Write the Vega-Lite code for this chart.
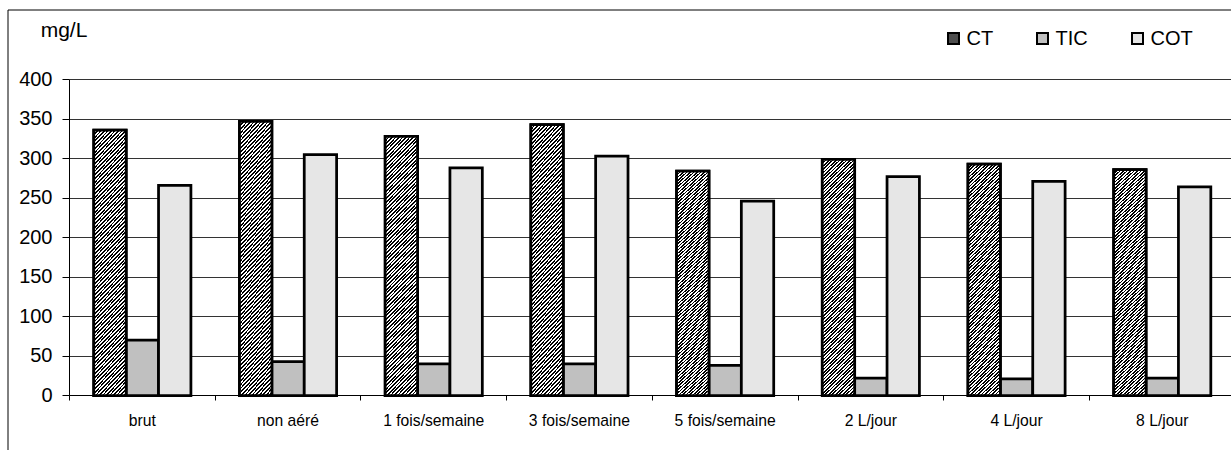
{
  "$schema": "https://vega.github.io/schema/vega-lite/v6.json",
  "width": 1240,
  "height": 450,
  "autosize": {"type": "none"},
  "padding": {"left": 7.5, "top": 9.5, "right": 0, "bottom": 0},
  "background": "white",
  "config": {
    "font": "Liberation Sans",
    "view": {"stroke": "black", "strokeWidth": 1},
    "axis": {"translate": 0, "domainColor": "black", "tickColor": "black", "labelColor": "black", "titleColor": "black"}
  },
  "data": {
    "values": [
      {"traitement": "brut", "serie": "CT", "mgL": 336},
      {"traitement": "brut", "serie": "TIC", "mgL": 70},
      {"traitement": "brut", "serie": "COT", "mgL": 266},
      {"traitement": "non aéré", "serie": "CT", "mgL": 347},
      {"traitement": "non aéré", "serie": "TIC", "mgL": 43},
      {"traitement": "non aéré", "serie": "COT", "mgL": 305},
      {"traitement": "1 fois/semaine", "serie": "CT", "mgL": 328},
      {"traitement": "1 fois/semaine", "serie": "TIC", "mgL": 40},
      {"traitement": "1 fois/semaine", "serie": "COT", "mgL": 288},
      {"traitement": "3 fois/semaine", "serie": "CT", "mgL": 343},
      {"traitement": "3 fois/semaine", "serie": "TIC", "mgL": 40},
      {"traitement": "3 fois/semaine", "serie": "COT", "mgL": 303},
      {"traitement": "5 fois/semaine", "serie": "CT", "mgL": 284},
      {"traitement": "5 fois/semaine", "serie": "TIC", "mgL": 38},
      {"traitement": "5 fois/semaine", "serie": "COT", "mgL": 246},
      {"traitement": "2 L/jour", "serie": "CT", "mgL": 299},
      {"traitement": "2 L/jour", "serie": "TIC", "mgL": 22},
      {"traitement": "2 L/jour", "serie": "COT", "mgL": 277},
      {"traitement": "4 L/jour", "serie": "CT", "mgL": 293},
      {"traitement": "4 L/jour", "serie": "TIC", "mgL": 21},
      {"traitement": "4 L/jour", "serie": "COT", "mgL": 271},
      {"traitement": "8 L/jour", "serie": "CT", "mgL": 286},
      {"traitement": "8 L/jour", "serie": "TIC", "mgL": 22},
      {"traitement": "8 L/jour", "serie": "COT", "mgL": 264}
    ]
  },
  "encoding": {
    "x": {
      "field": "traitement",
      "type": "nominal",
      "sort": null,
      "scale": {
        "domain": ["brut", "non aéré", "1 fois/semaine", "3 fois/semaine", "5 fois/semaine", "2 L/jour", "4 L/jour", "8 L/jour"],
        "range": [62, 1227.6],
        "paddingInner": 0,
        "paddingOuter": 0
      },
      "axis": {
        "title": null,
        "orient": "bottom",
        "offset": -64,
        "tickBand": "extent",
        "tickSize": 5,
        "labelFontSize": 15.7,
        "labelPadding": 25,
        "labelBaseline": "alphabetic",
        "labelAngle": 0,
        "labelOverlap": false,
        "grid": false
      }
    },
    "xOffset": {
      "field": "serie",
      "type": "nominal",
      "scale": {"domain": ["CT", "TIC", "COT"], "paddingInner": 0, "paddingOuter": 0.75}
    },
    "y": {
      "field": "mgL",
      "type": "quantitative",
      "scale": {"domain": [0, 400], "range": [386, 70], "nice": false},
      "axis": {
        "title": "mg/L",
        "titleAngle": 0,
        "titleAlign": "left",
        "titleBaseline": "alphabetic",
        "titleX": -28.8,
        "titleY": 27,
        "titleFontSize": 21,
        "titleFontWeight": "normal",
        "orient": "left",
        "offset": -62,
        "values": [0, 50, 100, 150, 200, 250, 300, 350, 400],
        "tickSize": 7,
        "labelFontSize": 20,
        "labelPadding": 10,
        "grid": true,
        "gridColor": "#333",
        "gridWidth": 1
      }
    }
  },
  "layer": [
    {
      "mark": {"type": "bar", "stroke": "black", "strokeWidth": 2.75},
      "encoding": {
        "fill": {
          "field": "serie",
          "type": "nominal",
          "scale": {"domain": ["CT", "TIC", "COT"], "range": ["#4d4d4d", "#c0c0c0", "#e6e6e6"]},
          "legend": {
            "title": null,
            "orient": "none",
            "direction": "horizontal",
            "legendX": 936,
            "legendY": 19,
            "padding": 0,
            "symbolType": "square",
            "symbolSize": 121,
            "symbolStrokeColor": "black",
            "symbolStrokeWidth": 2,
            "symbolOpacity": 1,
            "labelFontSize": 20,
            "labelColor": "black",
            "labelOffset": 3,
            "columnPadding": 39
          }
        }
      }
    },
    {
      "transform": [{"filter": "datum.serie === 'CT'"}],
      "mark": {
        "type": "bar",
        "stroke": "black",
        "strokeWidth": 2.75,
        "fill": {
          "gradient": "linear",
          "x1": 0, "y1": 0, "x2": 0.145, "y2": 1.112,
          "stops": [
{"offset":0,"color":"#000"},{"offset":0.00625,"color":"#000"},{"offset":0.00625,"color":"#fff"},{"offset":0.0125,"color":"#fff"},
{"offset":0.0125,"color":"#000"},{"offset":0.01875,"color":"#000"},{"offset":0.01875,"color":"#fff"},{"offset":0.025,"color":"#fff"},
{"offset":0.025,"color":"#000"},{"offset":0.03125,"color":"#000"},{"offset":0.03125,"color":"#fff"},{"offset":0.0375,"color":"#fff"},
{"offset":0.0375,"color":"#000"},{"offset":0.04375,"color":"#000"},{"offset":0.04375,"color":"#fff"},{"offset":0.05,"color":"#fff"},
{"offset":0.05,"color":"#000"},{"offset":0.05625,"color":"#000"},{"offset":0.05625,"color":"#fff"},{"offset":0.0625,"color":"#fff"},
{"offset":0.0625,"color":"#000"},{"offset":0.06875,"color":"#000"},{"offset":0.06875,"color":"#fff"},{"offset":0.075,"color":"#fff"},
{"offset":0.075,"color":"#000"},{"offset":0.08125,"color":"#000"},{"offset":0.08125,"color":"#fff"},{"offset":0.0875,"color":"#fff"},
{"offset":0.0875,"color":"#000"},{"offset":0.09375,"color":"#000"},{"offset":0.09375,"color":"#fff"},{"offset":0.1,"color":"#fff"},
{"offset":0.1,"color":"#000"},{"offset":0.10625,"color":"#000"},{"offset":0.10625,"color":"#fff"},{"offset":0.1125,"color":"#fff"},
{"offset":0.1125,"color":"#000"},{"offset":0.11875,"color":"#000"},{"offset":0.11875,"color":"#fff"},{"offset":0.125,"color":"#fff"},
{"offset":0.125,"color":"#000"},{"offset":0.13125,"color":"#000"},{"offset":0.13125,"color":"#fff"},{"offset":0.1375,"color":"#fff"},
{"offset":0.1375,"color":"#000"},{"offset":0.14375,"color":"#000"},{"offset":0.14375,"color":"#fff"},{"offset":0.15,"color":"#fff"},
{"offset":0.15,"color":"#000"},{"offset":0.15625,"color":"#000"},{"offset":0.15625,"color":"#fff"},{"offset":0.1625,"color":"#fff"},
{"offset":0.1625,"color":"#000"},{"offset":0.16875,"color":"#000"},{"offset":0.16875,"color":"#fff"},{"offset":0.175,"color":"#fff"},
{"offset":0.175,"color":"#000"},{"offset":0.18125,"color":"#000"},{"offset":0.18125,"color":"#fff"},{"offset":0.1875,"color":"#fff"},
{"offset":0.1875,"color":"#000"},{"offset":0.19375,"color":"#000"},{"offset":0.19375,"color":"#fff"},{"offset":0.2,"color":"#fff"},
{"offset":0.2,"color":"#000"},{"offset":0.20625,"color":"#000"},{"offset":0.20625,"color":"#fff"},{"offset":0.2125,"color":"#fff"},
{"offset":0.2125,"color":"#000"},{"offset":0.21875,"color":"#000"},{"offset":0.21875,"color":"#fff"},{"offset":0.225,"color":"#fff"},
{"offset":0.225,"color":"#000"},{"offset":0.23125,"color":"#000"},{"offset":0.23125,"color":"#fff"},{"offset":0.2375,"color":"#fff"},
{"offset":0.2375,"color":"#000"},{"offset":0.24375,"color":"#000"},{"offset":0.24375,"color":"#fff"},{"offset":0.25,"color":"#fff"},
{"offset":0.25,"color":"#000"},{"offset":0.25625,"color":"#000"},{"offset":0.25625,"color":"#fff"},{"offset":0.2625,"color":"#fff"},
{"offset":0.2625,"color":"#000"},{"offset":0.26875,"color":"#000"},{"offset":0.26875,"color":"#fff"},{"offset":0.275,"color":"#fff"},
{"offset":0.275,"color":"#000"},{"offset":0.28125,"color":"#000"},{"offset":0.28125,"color":"#fff"},{"offset":0.2875,"color":"#fff"},
{"offset":0.2875,"color":"#000"},{"offset":0.29375,"color":"#000"},{"offset":0.29375,"color":"#fff"},{"offset":0.3,"color":"#fff"},
{"offset":0.3,"color":"#000"},{"offset":0.30625,"color":"#000"},{"offset":0.30625,"color":"#fff"},{"offset":0.3125,"color":"#fff"},
{"offset":0.3125,"color":"#000"},{"offset":0.31875,"color":"#000"},{"offset":0.31875,"color":"#fff"},{"offset":0.325,"color":"#fff"},
{"offset":0.325,"color":"#000"},{"offset":0.33125,"color":"#000"},{"offset":0.33125,"color":"#fff"},{"offset":0.3375,"color":"#fff"},
{"offset":0.3375,"color":"#000"},{"offset":0.34375,"color":"#000"},{"offset":0.34375,"color":"#fff"},{"offset":0.35,"color":"#fff"},
{"offset":0.35,"color":"#000"},{"offset":0.35625,"color":"#000"},{"offset":0.35625,"color":"#fff"},{"offset":0.3625,"color":"#fff"},
{"offset":0.3625,"color":"#000"},{"offset":0.36875,"color":"#000"},{"offset":0.36875,"color":"#fff"},{"offset":0.375,"color":"#fff"},
{"offset":0.375,"color":"#000"},{"offset":0.38125,"color":"#000"},{"offset":0.38125,"color":"#fff"},{"offset":0.3875,"color":"#fff"},
{"offset":0.3875,"color":"#000"},{"offset":0.39375,"color":"#000"},{"offset":0.39375,"color":"#fff"},{"offset":0.4,"color":"#fff"},
{"offset":0.4,"color":"#000"},{"offset":0.40625,"color":"#000"},{"offset":0.40625,"color":"#fff"},{"offset":0.4125,"color":"#fff"},
{"offset":0.4125,"color":"#000"},{"offset":0.41875,"color":"#000"},{"offset":0.41875,"color":"#fff"},{"offset":0.425,"color":"#fff"},
{"offset":0.425,"color":"#000"},{"offset":0.43125,"color":"#000"},{"offset":0.43125,"color":"#fff"},{"offset":0.4375,"color":"#fff"},
{"offset":0.4375,"color":"#000"},{"offset":0.44375,"color":"#000"},{"offset":0.44375,"color":"#fff"},{"offset":0.45,"color":"#fff"},
{"offset":0.45,"color":"#000"},{"offset":0.45625,"color":"#000"},{"offset":0.45625,"color":"#fff"},{"offset":0.4625,"color":"#fff"},
{"offset":0.4625,"color":"#000"},{"offset":0.46875,"color":"#000"},{"offset":0.46875,"color":"#fff"},{"offset":0.475,"color":"#fff"},
{"offset":0.475,"color":"#000"},{"offset":0.48125,"color":"#000"},{"offset":0.48125,"color":"#fff"},{"offset":0.4875,"color":"#fff"},
{"offset":0.4875,"color":"#000"},{"offset":0.49375,"color":"#000"},{"offset":0.49375,"color":"#fff"},{"offset":0.5,"color":"#fff"},
{"offset":0.5,"color":"#000"},{"offset":0.50625,"color":"#000"},{"offset":0.50625,"color":"#fff"},{"offset":0.5125,"color":"#fff"},
{"offset":0.5125,"color":"#000"},{"offset":0.51875,"color":"#000"},{"offset":0.51875,"color":"#fff"},{"offset":0.525,"color":"#fff"},
{"offset":0.525,"color":"#000"},{"offset":0.53125,"color":"#000"},{"offset":0.53125,"color":"#fff"},{"offset":0.5375,"color":"#fff"},
{"offset":0.5375,"color":"#000"},{"offset":0.54375,"color":"#000"},{"offset":0.54375,"color":"#fff"},{"offset":0.55,"color":"#fff"},
{"offset":0.55,"color":"#000"},{"offset":0.55625,"color":"#000"},{"offset":0.55625,"color":"#fff"},{"offset":0.5625,"color":"#fff"},
{"offset":0.5625,"color":"#000"},{"offset":0.56875,"color":"#000"},{"offset":0.56875,"color":"#fff"},{"offset":0.575,"color":"#fff"},
{"offset":0.575,"color":"#000"},{"offset":0.58125,"color":"#000"},{"offset":0.58125,"color":"#fff"},{"offset":0.5875,"color":"#fff"},
{"offset":0.5875,"color":"#000"},{"offset":0.59375,"color":"#000"},{"offset":0.59375,"color":"#fff"},{"offset":0.6,"color":"#fff"},
{"offset":0.6,"color":"#000"},{"offset":0.60625,"color":"#000"},{"offset":0.60625,"color":"#fff"},{"offset":0.6125,"color":"#fff"},
{"offset":0.6125,"color":"#000"},{"offset":0.61875,"color":"#000"},{"offset":0.61875,"color":"#fff"},{"offset":0.625,"color":"#fff"},
{"offset":0.625,"color":"#000"},{"offset":0.63125,"color":"#000"},{"offset":0.63125,"color":"#fff"},{"offset":0.6375,"color":"#fff"},
{"offset":0.6375,"color":"#000"},{"offset":0.64375,"color":"#000"},{"offset":0.64375,"color":"#fff"},{"offset":0.65,"color":"#fff"},
{"offset":0.65,"color":"#000"},{"offset":0.65625,"color":"#000"},{"offset":0.65625,"color":"#fff"},{"offset":0.6625,"color":"#fff"},
{"offset":0.6625,"color":"#000"},{"offset":0.66875,"color":"#000"},{"offset":0.66875,"color":"#fff"},{"offset":0.675,"color":"#fff"},
{"offset":0.675,"color":"#000"},{"offset":0.68125,"color":"#000"},{"offset":0.68125,"color":"#fff"},{"offset":0.6875,"color":"#fff"},
{"offset":0.6875,"color":"#000"},{"offset":0.69375,"color":"#000"},{"offset":0.69375,"color":"#fff"},{"offset":0.7,"color":"#fff"},
{"offset":0.7,"color":"#000"},{"offset":0.70625,"color":"#000"},{"offset":0.70625,"color":"#fff"},{"offset":0.7125,"color":"#fff"},
{"offset":0.7125,"color":"#000"},{"offset":0.71875,"color":"#000"},{"offset":0.71875,"color":"#fff"},{"offset":0.725,"color":"#fff"},
{"offset":0.725,"color":"#000"},{"offset":0.73125,"color":"#000"},{"offset":0.73125,"color":"#fff"},{"offset":0.7375,"color":"#fff"},
{"offset":0.7375,"color":"#000"},{"offset":0.74375,"color":"#000"},{"offset":0.74375,"color":"#fff"},{"offset":0.75,"color":"#fff"},
{"offset":0.75,"color":"#000"},{"offset":0.75625,"color":"#000"},{"offset":0.75625,"color":"#fff"},{"offset":0.7625,"color":"#fff"},
{"offset":0.7625,"color":"#000"},{"offset":0.76875,"color":"#000"},{"offset":0.76875,"color":"#fff"},{"offset":0.775,"color":"#fff"},
{"offset":0.775,"color":"#000"},{"offset":0.78125,"color":"#000"},{"offset":0.78125,"color":"#fff"},{"offset":0.7875,"color":"#fff"},
{"offset":0.7875,"color":"#000"},{"offset":0.79375,"color":"#000"},{"offset":0.79375,"color":"#fff"},{"offset":0.8,"color":"#fff"},
{"offset":0.8,"color":"#000"},{"offset":0.80625,"color":"#000"},{"offset":0.80625,"color":"#fff"},{"offset":0.8125,"color":"#fff"},
{"offset":0.8125,"color":"#000"},{"offset":0.81875,"color":"#000"},{"offset":0.81875,"color":"#fff"},{"offset":0.825,"color":"#fff"},
{"offset":0.825,"color":"#000"},{"offset":0.83125,"color":"#000"},{"offset":0.83125,"color":"#fff"},{"offset":0.8375,"color":"#fff"},
{"offset":0.8375,"color":"#000"},{"offset":0.84375,"color":"#000"},{"offset":0.84375,"color":"#fff"},{"offset":0.85,"color":"#fff"},
{"offset":0.85,"color":"#000"},{"offset":0.85625,"color":"#000"},{"offset":0.85625,"color":"#fff"},{"offset":0.8625,"color":"#fff"},
{"offset":0.8625,"color":"#000"},{"offset":0.86875,"color":"#000"},{"offset":0.86875,"color":"#fff"},{"offset":0.875,"color":"#fff"},
{"offset":0.875,"color":"#000"},{"offset":0.88125,"color":"#000"},{"offset":0.88125,"color":"#fff"},{"offset":0.8875,"color":"#fff"},
{"offset":0.8875,"color":"#000"},{"offset":0.89375,"color":"#000"},{"offset":0.89375,"color":"#fff"},{"offset":0.9,"color":"#fff"},
{"offset":0.9,"color":"#000"},{"offset":0.90625,"color":"#000"},{"offset":0.90625,"color":"#fff"},{"offset":0.9125,"color":"#fff"},
{"offset":0.9125,"color":"#000"},{"offset":0.91875,"color":"#000"},{"offset":0.91875,"color":"#fff"},{"offset":0.925,"color":"#fff"},
{"offset":0.925,"color":"#000"},{"offset":0.93125,"color":"#000"},{"offset":0.93125,"color":"#fff"},{"offset":0.9375,"color":"#fff"},
{"offset":0.9375,"color":"#000"},{"offset":0.94375,"color":"#000"},{"offset":0.94375,"color":"#fff"},{"offset":0.95,"color":"#fff"},
{"offset":0.95,"color":"#000"},{"offset":0.95625,"color":"#000"},{"offset":0.95625,"color":"#fff"},{"offset":0.9625,"color":"#fff"},
{"offset":0.9625,"color":"#000"},{"offset":0.96875,"color":"#000"},{"offset":0.96875,"color":"#fff"},{"offset":0.975,"color":"#fff"},
{"offset":0.975,"color":"#000"},{"offset":0.98125,"color":"#000"},{"offset":0.98125,"color":"#fff"},{"offset":0.9875,"color":"#fff"},
{"offset":0.9875,"color":"#000"},{"offset":0.99375,"color":"#000"},{"offset":0.99375,"color":"#fff"},{"offset":1,"color":"#fff"}
          ]
        }
      }
    }
  ]
}
